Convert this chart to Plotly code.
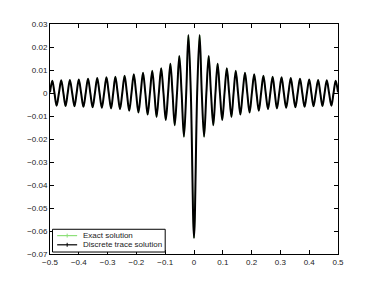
import numpy as np
import plotly.graph_objects as go

# Points (right half; the curve is symmetric about x = 0)
x_half = [0.0, 0.011, 0.0195, 0.027, 0.035, 0.043, 0.051, 0.059, 0.067, 0.0745,
          0.082, 0.090, 0.098, 0.106, 0.114, 0.122, 0.130, 0.1375, 0.145, 0.153,
          0.161, 0.169, 0.177, 0.185, 0.193, 0.201, 0.209, 0.217, 0.225, 0.233,
          0.241, 0.249, 0.257, 0.265, 0.273, 0.2805, 0.288, 0.296, 0.304, 0.312,
          0.320, 0.328, 0.336, 0.344, 0.352, 0.360, 0.368, 0.376, 0.384, 0.392,
          0.400, 0.4075, 0.415, 0.423, 0.431, 0.4385, 0.446, 0.4535, 0.461, 0.469,
          0.477, 0.4845, 0.492, 0.500]
y_half = [-0.0630, 0.0, 0.0252, 0.0, -0.0190, 0.0, 0.0161, 0.0, -0.0140, 0.0,
          0.0127, 0.0, -0.0117, 0.0, 0.0108, 0.0, -0.0104, 0.0, 0.0097, 0.0,
          -0.0094, 0.0, 0.0088, 0.0, -0.0085, 0.0, 0.0081, 0.0, -0.0077, 0.0,
          0.0075, 0.0, -0.0070, 0.0, 0.0071, 0.0, -0.0067, 0.0, 0.0068, 0.0,
          -0.0064, 0.0, 0.0065, 0.0, -0.0062, 0.0, 0.0062, 0.0, -0.0060, 0.0,
          0.0059, 0.0, -0.0058, 0.0, 0.0057, 0.0, -0.0057, 0.0, 0.0055, 0.0,
          -0.0055, 0.0, 0.0053, 0.0003]

series_names = ["Exact solution", "Discrete trace solution"]
series_colors = ["#8ee07a", "black"]

x_ticks = [-0.5, -0.4, -0.3, -0.2, -0.1, 0, 0.1, 0.2, 0.3, 0.4, 0.5]
x_tick_labels = ["\u22120.5", "\u22120.4", "\u22120.3", "\u22120.2", "\u22120.1", "0",
                 "0.1", "0.2", "0.3", "0.4", "0.5"]
y_ticks = [0.03, 0.02, 0.01, 0, -0.01, -0.02, -0.03, -0.04, -0.05, -0.06, -0.07]
y_tick_labels = ["0.03", "0.02", "0.01", "0", "\u22120.01", "\u22120.02", "\u22120.03",
                 "\u22120.04", "\u22120.05", "\u22120.06", "\u22120.07"]

xh = np.array(x_half)
yh = np.array(y_half)
x_full = np.concatenate([-xh[::-1], xh[1:]])
y_full = np.concatenate([yh[::-1], yh[1:]])

FONT = "Liberation Sans, Arial, sans-serif"

fig = go.Figure()
fig.add_trace(go.Scatter(
    x=x_full, y=y_full, mode="lines", name=series_names[0], showlegend=False,
    line=dict(color=series_colors[0], width=1, shape="spline", smoothing=1),
))
fig.add_trace(go.Scatter(
    x=x_full, y=y_full, mode="lines", name=series_names[1], showlegend=False,
    line=dict(color=series_colors[1], width=2, shape="spline", smoothing=1),
))

axis_common = dict(
    showline=True, linecolor="black", linewidth=1, mirror="ticks",
    ticks="inside", ticklen=4, tickcolor="black", tickwidth=1,
    showgrid=False, zeroline=False,
    tickfont=dict(family=FONT, size=8, color="#222"),
)
fig.update_xaxes(range=[-0.5, 0.5], tickvals=x_ticks, ticktext=x_tick_labels, **axis_common)
fig.update_yaxes(range=[-0.07, 0.03], tickvals=y_ticks, ticktext=y_tick_labels, **axis_common)

# Compact legend box (MATLAB style), in paper coordinates
shapes = [dict(type="rect", xref="paper", yref="paper", x0=0.0087, x1=0.400,
               y0=0.0086, y1=0.1075, line=dict(color="black", width=1),
               fillcolor="white", layer="above")]
annotations = []
rows_y = [0.080, 0.040]
for name, color, ry in zip(series_names, series_colors, rows_y):
    shapes.append(dict(type="line", xref="paper", yref="paper", x0=0.0249, x1=0.0942,
                       y0=ry, y1=ry, line=dict(color=color, width=1.2), layer="above"))
    shapes.append(dict(type="line", xref="paper", yref="paper", x0=0.0596, x1=0.0596,
                       y0=ry - 0.0086, y1=ry + 0.0086, line=dict(color=color, width=1),
                       layer="above"))
    annotations.append(dict(xref="paper", yref="paper", x=0.106, y=ry, text=name,
                            showarrow=False, xanchor="left", yanchor="middle",
                            font=dict(family=FONT, size=8, color="#222")))

fig.update_layout(
    width=366, height=279,
    margin=dict(l=41.5, r=35.7, t=13.7, b=32.7),
    plot_bgcolor="white", paper_bgcolor="white",
    showlegend=False,
    shapes=shapes, annotations=annotations,
)

fig.write_html("out.html")
